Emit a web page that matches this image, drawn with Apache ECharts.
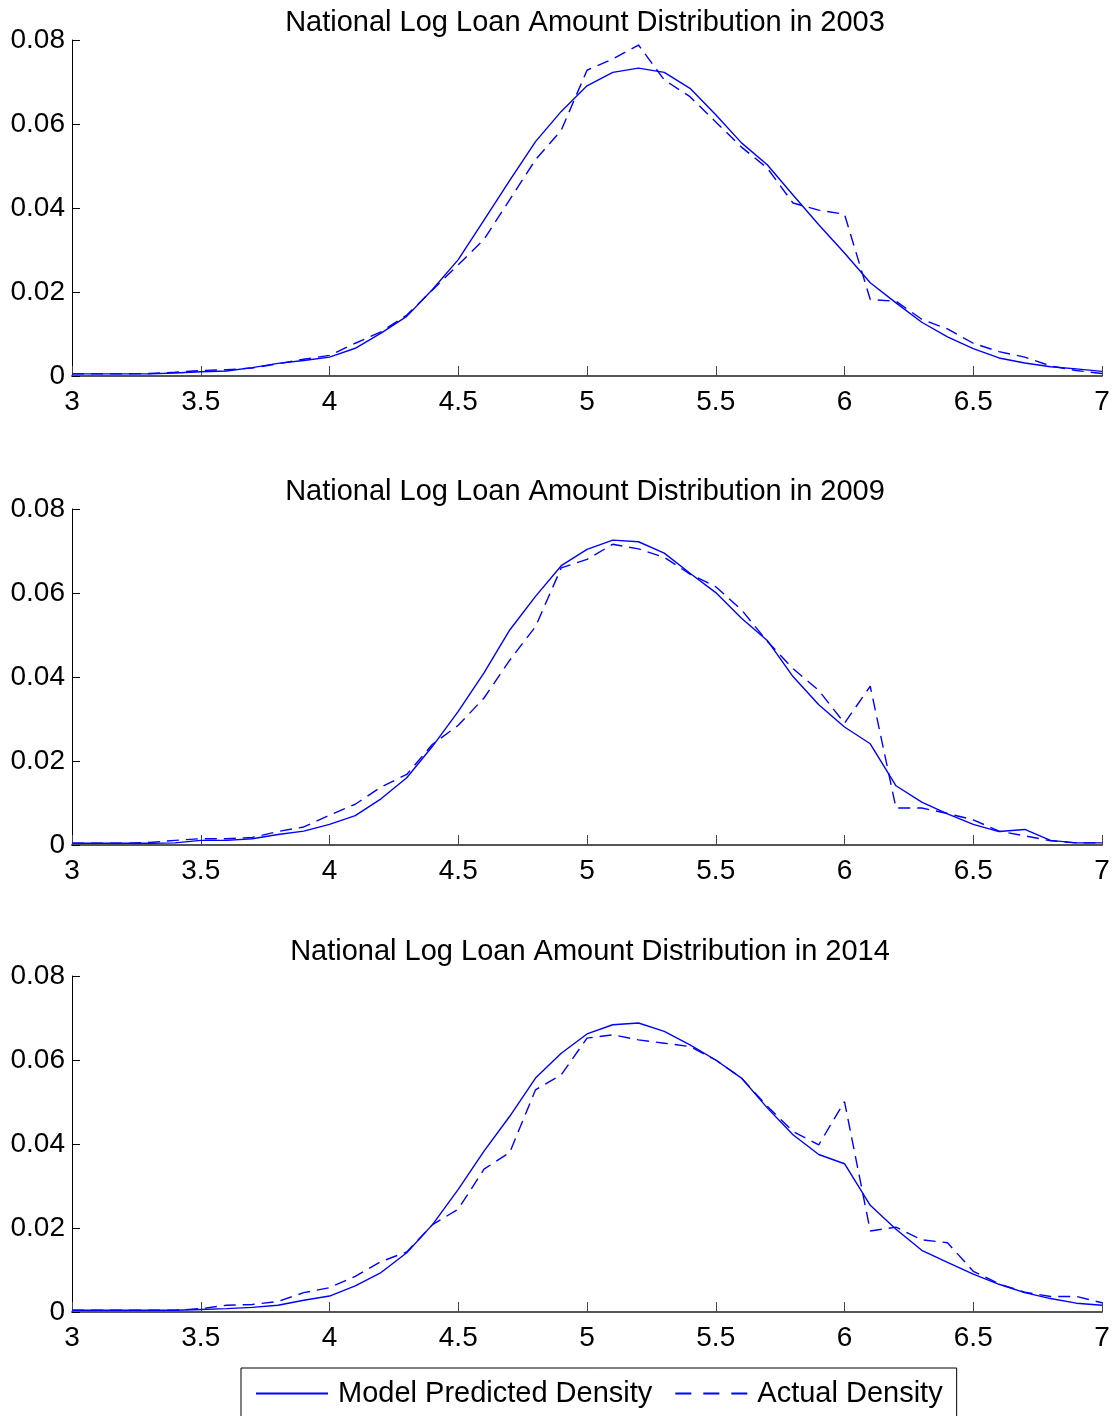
<!DOCTYPE html>
<html>
<head>
<meta charset="utf-8">
<script src="https://cdn.jsdelivr.net/npm/echarts@6/dist/echarts.min.js"></script>
<style>
  html, body { margin: 0; padding: 0; background: #fff; }
  #chart { width: 1118px; height: 1416px; }
</style>
</head>
<body>
<div id="chart"></div>
<script>
// log loan amount grid (x values)
const logLoan = [3.0, 3.1, 3.2, 3.3, 3.4, 3.5, 3.6, 3.7, 3.8, 3.9,
  4.0, 4.1, 4.2, 4.3, 4.4, 4.5, 4.6, 4.7, 4.8, 4.9,
  5.0, 5.1, 5.2, 5.3, 5.4, 5.5, 5.6, 5.7, 5.8, 5.9,
  6.0, 6.1, 6.2, 6.3, 6.4, 6.5, 6.6, 6.7, 6.8, 6.9, 7.0];

const years = ['2003', '2009', '2014'];

// 2003
const model2003 = [0.0005, 0.0005, 0.0005, 0.0005, 0.0007, 0.0010, 0.0012, 0.0020, 0.0030, 0.0037,
  0.0045, 0.0066, 0.0102, 0.0142, 0.0206, 0.0277, 0.0371, 0.0466, 0.0558, 0.0630,
  0.0691, 0.0723, 0.0733, 0.0723, 0.0685, 0.0622, 0.0555, 0.0503, 0.0431, 0.0360,
  0.0293, 0.0222, 0.0174, 0.0128, 0.0093, 0.0065, 0.0043, 0.0031, 0.0022, 0.0017, 0.0011];
const actual2003 = [0.0005, 0.0005, 0.0005, 0.0006, 0.0009, 0.0013, 0.0015, 0.0019, 0.0029, 0.0040,
  0.0049, 0.0078, 0.0105, 0.0145, 0.0205, 0.0265, 0.0325, 0.0420, 0.0515, 0.0585,
  0.0728, 0.0755, 0.0788, 0.0705, 0.0665, 0.0605, 0.0545, 0.0495, 0.0412, 0.0395,
  0.0385, 0.0182, 0.0178, 0.0135, 0.0112, 0.0078, 0.0058, 0.0045, 0.0024, 0.0013, 0.0006];

// 2009
const model2009 = [0.0004, 0.0004, 0.0004, 0.0004, 0.0005, 0.0011, 0.0011, 0.0015, 0.0025, 0.0033,
  0.0049, 0.0070, 0.0110, 0.0160, 0.0235, 0.0318, 0.0410, 0.0512, 0.0592, 0.0665,
  0.0704, 0.0726, 0.0722, 0.0695, 0.0647, 0.0601, 0.0540, 0.0487, 0.0401, 0.0334,
  0.0281, 0.0241, 0.0141, 0.0102, 0.0074, 0.0049, 0.0032, 0.0037, 0.0011, 0.0005, 0.0005];
const actual2009 = [0.0004, 0.0004, 0.0004, 0.0006, 0.0011, 0.0015, 0.0015, 0.0018, 0.0032, 0.0043,
  0.0071, 0.0097, 0.0138, 0.0168, 0.0240, 0.0285, 0.0350, 0.0440, 0.0520, 0.0660,
  0.0680, 0.0716, 0.0705, 0.0685, 0.0645, 0.0615, 0.0560, 0.0485, 0.0420, 0.0368,
  0.0290, 0.0378, 0.0088, 0.0088, 0.0075, 0.0060, 0.0033, 0.0022, 0.0010, 0.0005, 0.0005];

// 2014
const model2014 = [0.0004, 0.0004, 0.0004, 0.0004, 0.0004, 0.0006, 0.0008, 0.0011, 0.0016, 0.0028,
  0.0038, 0.0062, 0.0094, 0.0141, 0.0208, 0.0292, 0.0383, 0.0466, 0.0557, 0.0616,
  0.0662, 0.0684, 0.0688, 0.0668, 0.0636, 0.0600, 0.0557, 0.0486, 0.0422, 0.0375,
  0.0353, 0.0254, 0.0197, 0.0147, 0.0118, 0.0090, 0.0066, 0.0046, 0.0032, 0.0021, 0.0016];
const actual2014 = [0.0004, 0.0004, 0.0004, 0.0004, 0.0004, 0.0008, 0.0016, 0.0018, 0.0025, 0.0046,
  0.0058, 0.0085, 0.0120, 0.0143, 0.0208, 0.0245, 0.0340, 0.0380, 0.0529, 0.0565,
  0.0652, 0.0660, 0.0648, 0.0640, 0.0632, 0.0600, 0.0557, 0.0490, 0.0430, 0.0398,
  0.0501, 0.0193, 0.0202, 0.0172, 0.0165, 0.0097, 0.0067, 0.0047, 0.0037, 0.0037, 0.0022];

const modelSets = [model2003, model2009, model2014];
const actualSets = [actual2003, actual2009, actual2014];

const FONT = "'Liberation Sans', Arial, Helvetica, sans-serif";
const BLUE = '#0000ff';

// panel tops (px) and title centres
const gridTops = [40, 509, 976];
const titleTops = [3, 472, 932];
const titleCentres = [580, 580, 585];

function pairs(xs, ys) {
  return xs.map((x, i) => [x, ys[i]]);
}

const chart = echarts.init(document.getElementById('chart'), null, { renderer: 'canvas' });

const option = {
  backgroundColor: '#fff',
  animation: false,
  title: years.map((y, i) => ({
    text: 'National Log Loan Amount Distribution in ' + y,
    left: titleCentres[i],
    top: titleTops[i],
    textAlign: 'center',
    textStyle: { fontFamily: FONT, fontSize: 29, fontWeight: 'normal', color: '#000' }
  })),
  legend: {
    data: [
      { name: 'Model Predicted Density' },
      { name: 'Actual Density', lineStyle: { type: [16, 12] } }
    ],
    left: 241,
    top: 1368,
    orient: 'horizontal',
    itemWidth: 72,
    itemHeight: 14,
    itemGap: 22,
    padding: [11, 14, 10, 14],
    borderColor: '#000',
    borderWidth: 1,
    borderRadius: 0,
    backgroundColor: '#fff',
    itemStyle: { opacity: 0 },
    textStyle: { fontFamily: FONT, fontSize: 29, color: '#000', padding: [0, 0, 0, 5] }
  },
  grid: gridTops.map(t => ({ left: 72, right: 16, top: t, height: 336 })),
  xAxis: gridTops.map((t, i) => ({
    type: 'value',
    gridIndex: i,
    min: 3,
    max: 7,
    interval: 0.5,
    axisLine: { onZero: false, lineStyle: { color: '#555', width: 2 } },
    axisTick: { inside: true, length: 10, lineStyle: { color: '#444', width: 1 } },
    axisLabel: { fontFamily: FONT, fontSize: 28, color: '#000', margin: 12 },
    splitLine: { show: false }
  })),
  yAxis: gridTops.map((t, i) => ({
    type: 'value',
    gridIndex: i,
    min: 0,
    max: 0.08,
    interval: 0.02,
    axisLine: { show: true, lineStyle: { color: '#000', width: 1 } },
    axisTick: { show: true, inside: true, length: 8, lineStyle: { color: '#000', width: 1 } },
    axisLabel: { fontFamily: FONT, fontSize: 28, color: '#000', margin: 7 },
    splitLine: { show: false }
  })),
  series: []
};

years.forEach((y, i) => {
  option.series.push({
    name: 'Model Predicted Density',
    type: 'line',
    xAxisIndex: i,
    yAxisIndex: i,
    data: pairs(logLoan, modelSets[i]),
    symbol: 'none',
    lineStyle: { color: BLUE, width: 1.4, type: 'solid' },
    itemStyle: { color: BLUE }
  });
  option.series.push({
    name: 'Actual Density',
    type: 'line',
    xAxisIndex: i,
    yAxisIndex: i,
    data: pairs(logLoan, actualSets[i]),
    symbol: 'none',
    lineStyle: { color: BLUE, width: 1.4, type: [12, 7] },
    itemStyle: { color: BLUE }
  });
});

chart.setOption(option);
</script>
</body>
</html>
